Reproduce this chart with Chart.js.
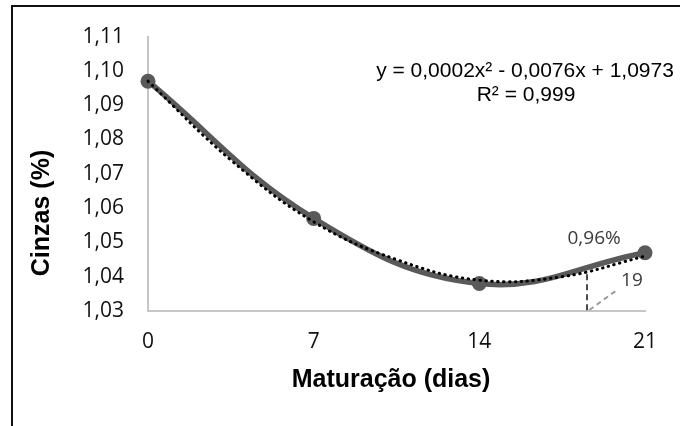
<!DOCTYPE html>
<html>
<head>
<meta charset="utf-8">
<script src="https://cdn.jsdelivr.net/npm/chart.js@4/dist/chart.umd.min.js"></script>
<style>
  html, body { margin: 0; padding: 0; background: #fff; }
  #wrap { position: relative; width: 680px; height: 426px; }
  #frame { position: absolute; left: 11px; top: 5px; right: 0; bottom: 0;
           border-left: 2px solid #111; border-top: 2px solid #111; pointer-events: none; }
</style>
</head>
<body>
<div id="wrap">
  <canvas id="c" width="680" height="426"></canvas>
  <div id="frame"></div>
</div>
<script>
/* ---- data --------------------------------------------------------------- */
var dias = [0, 7, 14, 21];
var cinzas = [1.097, 1.057, 1.038, 1.047];
// polynomial trend line (dotted)
var trendDias = [0, 3.5, 7, 10.5, 14, 17.5, 21];
var trendCinzas = [1.097, 1.074, 1.056, 1.045, 1.039, 1.040, 1.046];
var xTicks = [0, 7, 14, 21];
var yTicks = [1.03, 1.04, 1.05, 1.06, 1.07, 1.08, 1.09, 1.10, 1.11];

var eqText = ["y = 0,0002x\u00b2 - 0,0076x + 1,0973", "R\u00b2 = 0,999"];

function pts(xs, ys) { return xs.map(function (x, i) { return { x: x, y: ys[i] }; }); }
function fmt(v) { return v.toFixed(2).replace(".", ","); }

var GRAY = "#5a5a5a";
var AXIS = "#c6c6c6";
var TICKFONT = { family: "'Open Sans', 'Liberation Sans', sans-serif", size: 21 };

/* titles, equation and the little 0,96% / 19 markup */
var extras = {
  id: "extras",
  afterDatasetsDraw: function (chart) {
    var ctx = chart.ctx, xs = chart.scales.x, ys = chart.scales.y;
    ctx.save();
    // dashed helper lines near day 21
    ctx.lineWidth = 1.5;
    ctx.strokeStyle = "#111";
    ctx.setLineDash([6, 4]);
    ctx.beginPath();
    ctx.moveTo(xs.getPixelForValue(18.55), ys.getPixelForValue(1.0302));
    ctx.lineTo(xs.getPixelForValue(18.55), ys.getPixelForValue(1.0411));
    ctx.stroke();
    ctx.strokeStyle = "#9a9a9a";
    ctx.lineWidth = 2;
    ctx.setLineDash([5, 4]);
    ctx.beginPath();
    ctx.moveTo(xs.getPixelForValue(18.65), ys.getPixelForValue(1.0303));
    ctx.lineTo(xs.getPixelForValue(19.75), ys.getPixelForValue(1.0358));
    ctx.stroke();
    ctx.setLineDash([]);

    ctx.fillStyle = "#3a3a3a";
    ctx.font = "19px 'Open Sans', 'Liberation Sans', sans-serif";
    ctx.textAlign = "center";
    ctx.textBaseline = "middle";
    ctx.fillText("0,96%", xs.getPixelForValue(18.85), ys.getPixelForValue(1.0512));
    ctx.fillText("19", xs.getPixelForValue(20.45), ys.getPixelForValue(1.039));

    // trend equation
    ctx.fillStyle = "#000";
    ctx.font = "21px 'Liberation Sans', Arial, sans-serif";
    ctx.fillText(eqText[0], 525, 71);
    ctx.fillText(eqText[1], 526, 95);

    // axis titles
    ctx.font = "bold 25px 'Liberation Sans', Arial, sans-serif";
    ctx.fillText("Matura\u00e7\u00e3o (dias)", 391, 380);
    ctx.translate(42, 213);
    ctx.rotate(-Math.PI / 2);
    ctx.fillText("Cinzas (%)", 0, 0);
    ctx.restore();
  }
};

new Chart(document.getElementById("c").getContext("2d"), {
  type: "scatter",
  data: {
    datasets: [
      {
        label: "Linha de tend\u00eancia",
        data: pts(trendDias, trendCinzas),
        showLine: true,
        tension: 0.4,
        borderColor: "#000",
        borderWidth: 3,
        borderDash: [0.5, 5.4],
        borderCapStyle: "round",
        pointRadius: 0,
        clip: false,
        order: 0
      },
      {
        label: "Cinzas",
        data: pts(dias, cinzas),
        showLine: true,
        tension: 0.4,
        borderColor: GRAY,
        borderWidth: 5.5,
        backgroundColor: GRAY,
        pointBackgroundColor: GRAY,
        pointBorderColor: GRAY,
        pointRadius: 7.5,
        pointBorderWidth: 0,
        clip: false,
        order: 1
      }
    ]
  },
  options: {
    responsive: false,
    animation: false,
    events: [],
    layout: { padding: { top: 35, right: 35, left: 0, bottom: 0 } },
    plugins: { legend: { display: false }, tooltip: { enabled: false } },
    scales: {
      x: {
        type: "linear", min: 0, max: 21,
        grid: { display: false, drawTicks: false },
        border: { display: true, color: AXIS, width: 2 },
        afterBuildTicks: function (s) { s.ticks = xTicks.map(function (v) { return { value: v }; }); },
        afterFit: function (s) { s.height = 115; },
        ticks: { color: "#111", font: TICKFONT, padding: 18, maxRotation: 0 }
      },
      y: {
        type: "linear", min: 1.03, max: 1.11,
        grid: { display: false, drawTicks: false },
        border: { display: true, color: AXIS, width: 2 },
        afterBuildTicks: function (s) { s.ticks = yTicks.map(function (v) { return { value: v }; }); },
        afterFit: function (s) { s.width = 148; },
        ticks: { color: "#111", font: TICKFONT, padding: 24, callback: function (v) { return fmt(v); } }
      }
    }
  },
  plugins: [extras]
});
</script>
</body>
</html>
